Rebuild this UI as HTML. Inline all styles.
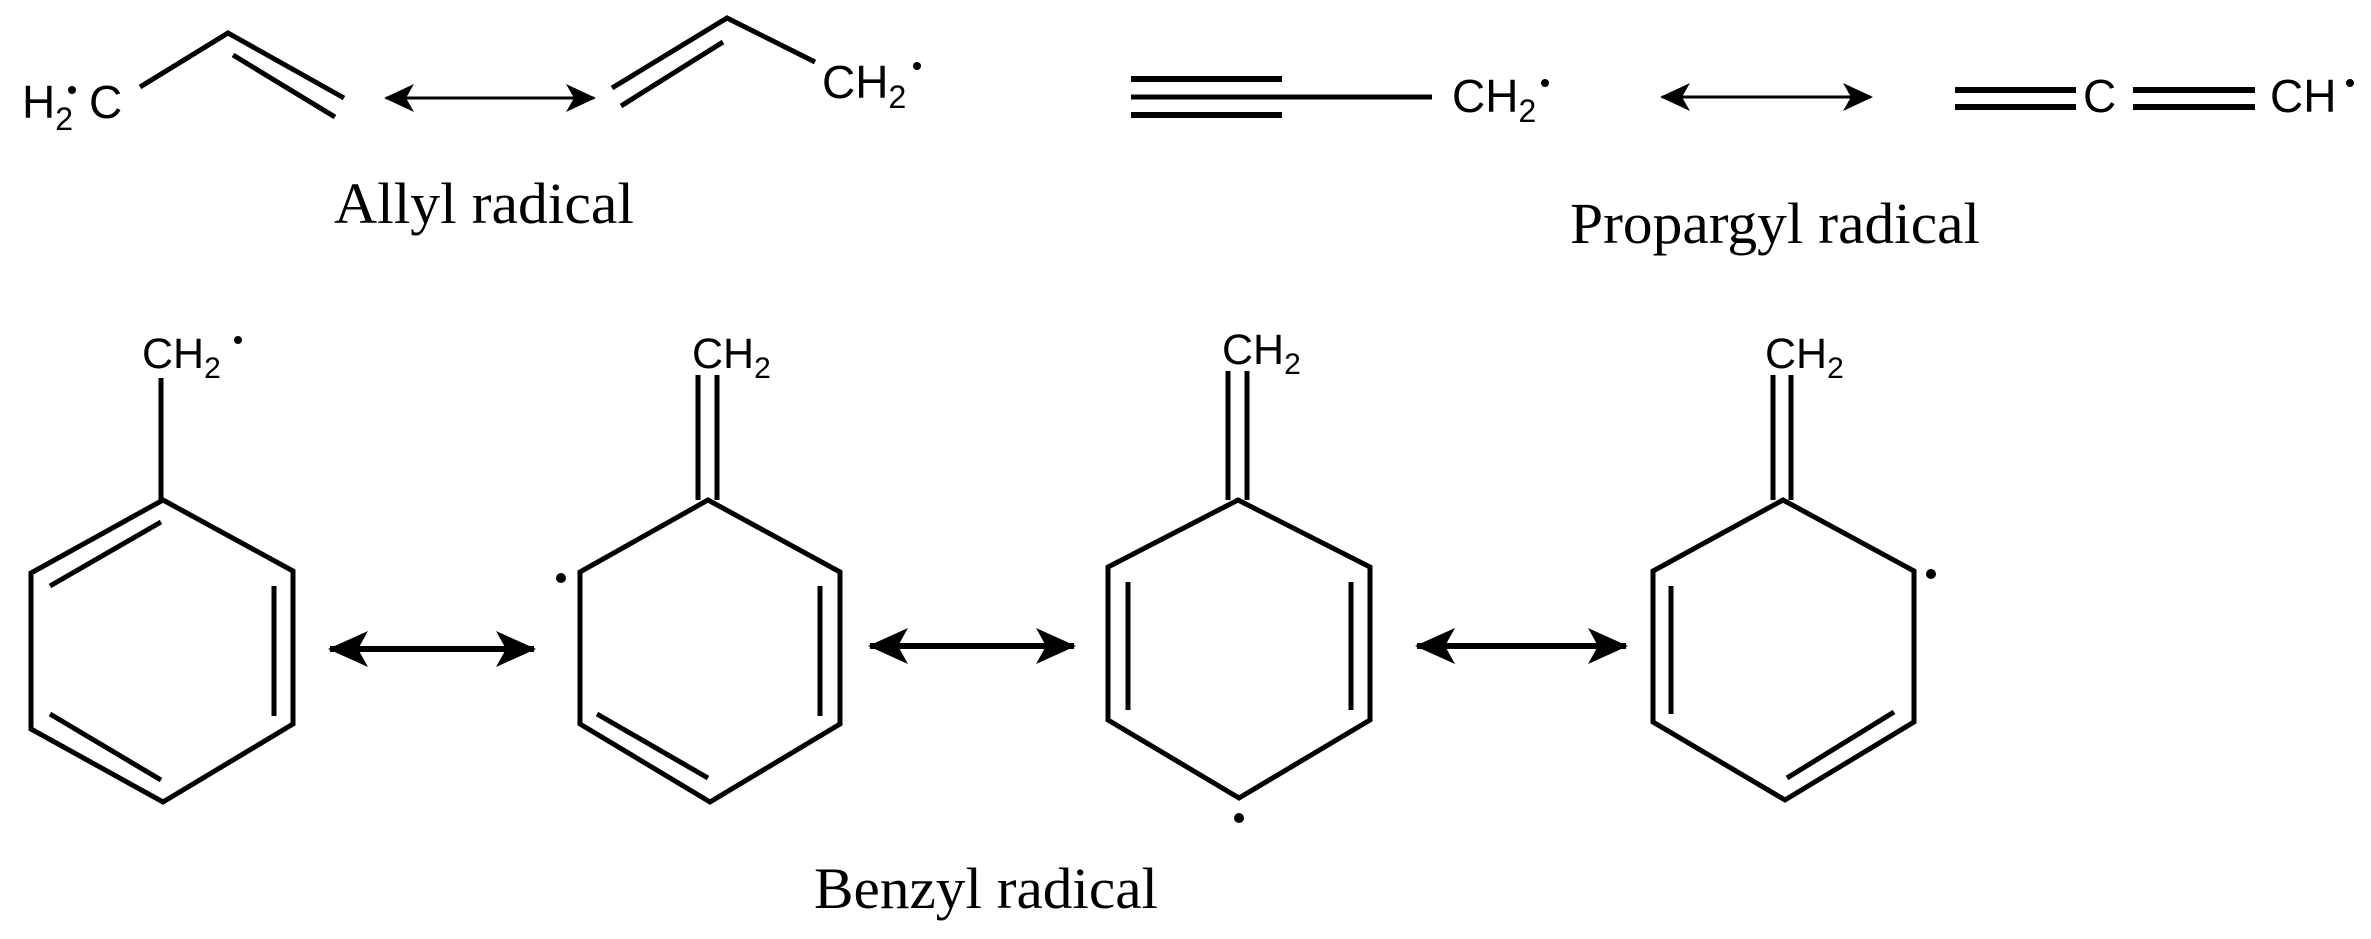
<!DOCTYPE html>
<html><head><meta charset="utf-8"><style>
html,body{margin:0;padding:0;background:#fff;}
svg{display:block;}
.s{font-family:"Liberation Sans",Arial,sans-serif;fill:#000;}
.t{font-family:"Liberation Serif","Times New Roman",serif;fill:#000;}
</style></head><body>
<svg width="2371" height="939" viewBox="0 0 2371 939" xmlns="http://www.w3.org/2000/svg">
<defs>
<marker id="ah" viewBox="0 0 40 40" refX="38" refY="20" markerWidth="40" markerHeight="40" markerUnits="userSpaceOnUse" orient="auto-start-reverse">
<path d="M40,20 L0,2 L10,20 L0,38 Z" fill="#000"/>
</marker>
<marker id="ah2" viewBox="0 0 30 30" refX="28" refY="15" markerWidth="30" markerHeight="30" markerUnits="userSpaceOnUse" orient="auto-start-reverse">
<path d="M30,15 L0,1 L8,15 L0,29 Z" fill="#000"/>
</marker>
</defs>
<g stroke="#000" stroke-width="5" fill="none" stroke-linecap="butt" stroke-linejoin="miter">
<polyline points="140,87 228,33 344,98"/>
<line x1="233" y1="55" x2="335" y2="117"/>
<line x1="386" y1="98" x2="594" y2="98" stroke-width="3" marker-start="url(#ah2)" marker-end="url(#ah2)"/>
<polyline points="612,88 727,18 815,62"/>
<line x1="621" y1="106" x2="723" y2="42"/>
<line x1="1131" y1="79" x2="1282" y2="79" stroke-width="6"/>
<line x1="1131" y1="97" x2="1432" y2="97" stroke-width="5"/>
<line x1="1131" y1="115" x2="1282" y2="115" stroke-width="6"/>
<line x1="1662" y1="97" x2="1871" y2="97" stroke-width="3" marker-start="url(#ah2)" marker-end="url(#ah2)"/>
<line x1="1955" y1="90" x2="2076" y2="90" stroke-width="6"/>
<line x1="1955" y1="107" x2="2076" y2="107" stroke-width="6"/>
<line x1="2133" y1="90" x2="2255" y2="90" stroke-width="6"/>
<line x1="2133" y1="107" x2="2255" y2="107" stroke-width="6"/>

<line x1="161" y1="378" x2="161" y2="500"/>
<polygon points="163,500 293,571 293,724 163,802 31,729 31,573"/>
<line x1="50" y1="586" x2="161" y2="522"/>
<line x1="274" y1="586" x2="274" y2="716"/>
<line x1="50" y1="714" x2="161" y2="780"/>
<line x1="330" y1="649" x2="534" y2="649" stroke-width="6" marker-start="url(#ah)" marker-end="url(#ah)"/>
<line x1="698" y1="375" x2="698" y2="500"/>
<line x1="717" y1="375" x2="717" y2="500"/>
<polygon points="708,500 840,572 840,724 710,802 580,724 580,572"/>
<line x1="820" y1="586" x2="820" y2="716"/>
<line x1="597" y1="714" x2="708" y2="778"/>
<line x1="870" y1="646" x2="1074" y2="646" stroke-width="6" marker-start="url(#ah)" marker-end="url(#ah)"/>
<line x1="1228" y1="371" x2="1228" y2="500"/>
<line x1="1247" y1="371" x2="1247" y2="500"/>
<polygon points="1238,500 1370,567 1370,720 1239,798 1108,720 1108,567"/>
<line x1="1128" y1="582" x2="1128" y2="710"/>
<line x1="1351" y1="582" x2="1351" y2="710"/>
<line x1="1417" y1="646" x2="1626" y2="646" stroke-width="6" marker-start="url(#ah)" marker-end="url(#ah)"/>
<line x1="1773" y1="375" x2="1773" y2="500"/>
<line x1="1791" y1="375" x2="1791" y2="500"/>
<polygon points="1783,500 1914,571 1914,722 1785,800 1653,722 1653,571"/>
<line x1="1671" y1="586" x2="1671" y2="714"/>
<line x1="1787" y1="778" x2="1894" y2="712"/>
</g>
<g fill="#000">
<circle cx="72" cy="90" r="4"/>
<circle cx="917" cy="66" r="4"/>
<circle cx="1545" cy="83" r="4"/>
<circle cx="2350" cy="83" r="4"/>
<circle cx="238" cy="340" r="4"/>
<circle cx="561" cy="578" r="5"/>
<circle cx="1239" cy="818" r="5"/>
<circle cx="1931" cy="574" r="5"/>
</g>
<text class="s" x="22" y="118" font-size="46">H<tspan font-size="32" dy="12">2</tspan><tspan dy="-12" dx="16">C</tspan></text>
<text class="s" x="822" y="98" font-size="46">CH<tspan font-size="32" dy="10">2</tspan></text>
<text class="s" x="1452" y="112" font-size="46">CH<tspan font-size="32" dy="10">2</tspan></text>
<text class="s" x="2083" y="112" font-size="46">C</text>
<text class="s" x="2270" y="112" font-size="46">CH</text>
<text class="s" x="142" y="368" font-size="43">CH<tspan font-size="30" dy="10">2</tspan></text>
<text class="s" x="692" y="368" font-size="43">CH<tspan font-size="30" dy="10">2</tspan></text>
<text class="s" x="1222" y="364" font-size="43">CH<tspan font-size="30" dy="10">2</tspan></text>
<text class="s" x="1765" y="368" font-size="43">CH<tspan font-size="30" dy="10">2</tspan></text>
<text class="t" x="334" y="223" font-size="58" textLength="300" lengthAdjust="spacingAndGlyphs">Allyl radical</text>
<text class="t" x="1570" y="243" font-size="58" textLength="410" lengthAdjust="spacingAndGlyphs">Propargyl radical</text>
<text class="t" x="814" y="908" font-size="58" textLength="344" lengthAdjust="spacingAndGlyphs">Benzyl radical</text>
</svg>
</body></html>
